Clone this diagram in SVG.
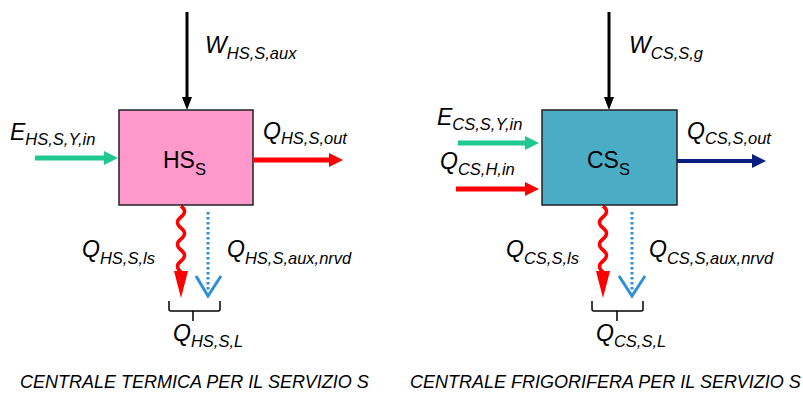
<svg xmlns="http://www.w3.org/2000/svg" width="803" height="393" viewBox="0 0 803 393">
<style>
text{font-family:"Liberation Sans",Arial,sans-serif;fill:#000}
.lbl{font-size:23px;font-style:italic}
.sub{font-size:16.5px}
.box{font-size:23px}
.bsub{font-size:16.5px}
.cap{font-size:18px;font-style:italic}
.blk{stroke:#000;stroke-width:3;fill:none}
.grn{stroke:#1FC88F;stroke-width:5;fill:none}
.red{stroke:#FF0000;stroke-width:5;fill:none}
.nav{stroke:#0A1F80;stroke-width:4;fill:none}
.wav{stroke:#FF0000;stroke-width:3.5;fill:none}
.dot{stroke:#2E8FD8;stroke-width:3;stroke-dasharray:2.5 2.5;fill:none}
.vee{stroke:#2E8FD8;stroke-width:3;fill:none;stroke-linejoin:miter}
.brace{stroke:#000;stroke-width:1.5;fill:none;stroke-linejoin:round}
</style>
<rect width="803" height="393" fill="#fff"/>
<g id="connectors">
  <line class="blk" x1="187" y1="12" x2="187" y2="98"/>
  <polygon points="182,97 192,97 187,110" fill="#000"/>
  <line class="grn" x1="35" y1="158" x2="105" y2="158"/>
  <polygon points="104,151 104,165 118,158" fill="#1FC88F"/>
  <line class="red" x1="254" y1="160" x2="330" y2="160"/>
  <polygon points="329,153 329,167 343,160" fill="#FF0000"/>
  <path class="wav" d="M181,206 q7,5.5 0,11 t0,11 t0,11 t0,11 t0,11 t0,11"/>
  <polygon points="174,271 188,271 181,298" fill="#FF0000"/>
  <line class="dot" x1="208" y1="212" x2="208" y2="292"/>
  <polyline class="vee" points="196,276 208,296 221,276"/>
  <path class="brace" d="M169,301 V309 Q169,311 171,311 H218 Q220,311 220,309 V301 M193,311 V321"/>
  <line class="blk" x1="609" y1="12" x2="609" y2="98"/>
  <polygon points="604,97 614,97 609,110" fill="#000"/>
  <line class="grn" x1="458" y1="143" x2="526" y2="143"/>
  <polygon points="525,136 525,150 539,143" fill="#1FC88F"/>
  <line class="red" x1="456" y1="189" x2="526" y2="189"/>
  <polygon points="525,182 525,196 539,189" fill="#FF0000"/>
  <line class="nav" x1="677" y1="161" x2="753" y2="161"/>
  <polygon points="752,154 752,168 766,161" fill="#0A1F80"/>
  <path class="wav" d="M603,206 q7,5.5 0,11 t0,11 t0,11 t0,11 t0,11 t0,11"/>
  <polygon points="596,271 610,271 603,298" fill="#FF0000"/>
  <line class="dot" x1="632" y1="212" x2="632" y2="292"/>
  <polyline class="vee" points="619,276 632,296 645,276"/>
  <path class="brace" d="M592,301 V309 Q592,311 594,311 H641 Q643,311 643,309 V301 M617,311 V321"/>
</g>
<g id="node-HS">
  <rect x="119" y="110" width="134" height="95" fill="#FF99CC" stroke="#222" stroke-width="1.5"/>
  <text class="box" x="163" y="168">HS<tspan class="bsub" dy="7">S</tspan></text>
</g>
<g id="node-CS">
  <rect x="542" y="110" width="135" height="95" fill="#4BACC6" stroke="#222" stroke-width="1.5"/>
  <text class="box" x="587" y="168">CS<tspan class="bsub" dy="7">S</tspan></text>
</g>
<g id="labels-left">
  <text class="lbl" x="205" y="53">W<tspan class="sub" dy="6">HS,S,aux</tspan></text>
  <text class="lbl" x="10" y="140">E<tspan class="sub" dy="5">HS,S,Y,in</tspan></text>
  <text class="lbl" x="263" y="139">Q<tspan class="sub" dy="5">HS,S,out</tspan></text>
  <text class="lbl" x="82" y="257">Q<tspan class="sub" dy="7">HS,S,ls</tspan></text>
  <text class="lbl" x="227" y="257">Q<tspan class="sub" dy="7">HS,S,aux,nrvd</tspan></text>
  <text class="lbl" x="173" y="341">Q<tspan class="sub" dy="6">HS,S,L</tspan></text>
  <text class="cap" x="20" y="388">CENTRALE TERMICA PER IL SERVIZIO S</text>
</g>
<g id="labels-right">
  <text class="lbl" x="629" y="53">W<tspan class="sub" dy="6">CS,S,g</tspan></text>
  <text class="lbl" x="437" y="125">E<tspan class="sub" dy="5">CS,S,Y,in</tspan></text>
  <text class="lbl" x="440" y="169">Q<tspan class="sub" dy="6">CS,H,in</tspan></text>
  <text class="lbl" x="687" y="139">Q<tspan class="sub" dy="5">CS,S,out</tspan></text>
  <text class="lbl" x="506" y="257">Q<tspan class="sub" dy="7">CS,S,ls</tspan></text>
  <text class="lbl" x="649" y="257">Q<tspan class="sub" dy="7">CS,S,aux,nrvd</tspan></text>
  <text class="lbl" x="596" y="341">Q<tspan class="sub" dy="6">CS,S,L</tspan></text>
  <text class="cap" x="410" y="388">CENTRALE FRIGORIFERA PER IL SERVIZIO S</text>
</g>
</svg>
